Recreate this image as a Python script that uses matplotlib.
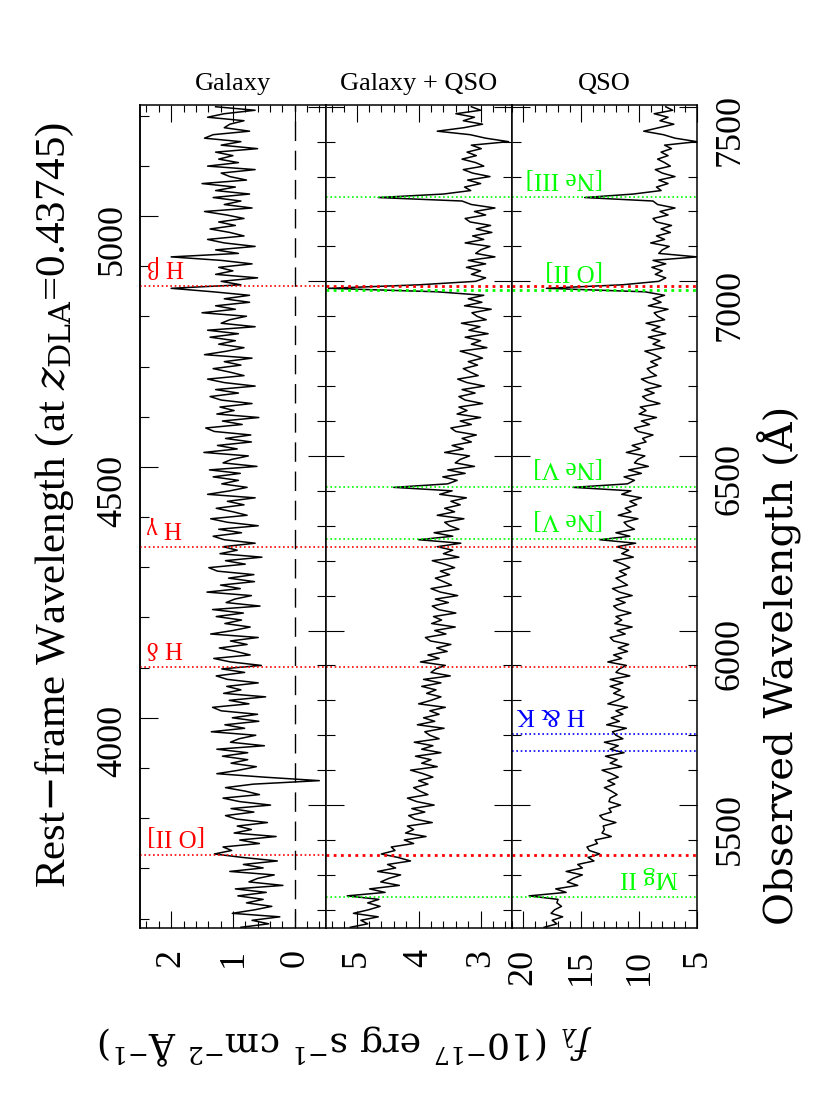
import numpy as np
import matplotlib
matplotlib.use("Agg")
import matplotlib.pyplot as plt
from matplotlib.ticker import MultipleLocator, FixedLocator

# ------------------ DATOS ------------------
Z_DLA = 0.43745
Z_QSO = 0.8716

# observed wavelength grid of the spectra (Angstrom)
wave = np.arange(5150, 7501, 10)

gal_flux = [
    0.87, 0.42, 0.69, 0.24, 1.01, 0.65, 0.37, 0.78, 0.51, 0.92,
    0.46, 0.96, 0.19, 0.74, 0.60, 0.33, 1.05, 0.51, 0.83, 0.28,
    0.84, 1.30, 1.02, 1.16, 0.57, 0.89, 0.30, 0.98, 0.70, 0.93,
    0.44, 0.94, 1.12, 0.66, 1.03, 0.39, 0.89, 1.16, 0.57, 0.80,
    1.12, 0.67, -0.40, 0.49, 1.26, 0.90, 0.62, 1.03, 0.76, 1.17,
    0.76, 1.26, 0.49, 1.04, 0.90, 0.63, 1.35, 0.81, 1.13, 0.58,
    1.01, 0.60, 1.19, 1.33, 0.74, 1.06, 0.47, 1.15, 0.87, 1.10,
    0.59, 1.09, 1.27, 0.81, 1.18, 0.54, 1.04, 1.31, 0.72, 0.95,
    1.22, 0.77, 1.04, 0.59, 1.36, 1.00, 0.72, 1.13, 0.86, 1.27,
    0.83, 1.33, 0.56, 1.11, 0.97, 0.70, 1.42, 0.88, 1.20, 0.65,
    1.07, 0.66, 1.25, 1.39, 0.80, 1.12, 0.53, 1.21, 0.93, 1.16,
    0.64, 1.14, 1.32, 0.86, 1.23, 0.59, 1.09, 1.36, 0.77, 1.00,
    1.27, 0.82, 1.09, 0.64, 1.41, 1.05, 0.77, 1.18, 0.91, 1.32,
    0.88, 1.38, 0.61, 1.16, 1.02, 0.75, 1.47, 0.93, 1.25, 0.70,
    1.12, 0.71, 1.30, 1.44, 0.85, 1.17, 0.58, 1.26, 0.98, 1.21,
    0.69, 1.19, 1.37, 0.91, 1.28, 0.64, 1.14, 1.41, 0.82, 1.05,
    1.32, 0.87, 1.14, 0.69, 1.46, 1.10, 0.82, 1.23, 0.96, 1.37,
    0.91, 1.41, 0.64, 1.19, 1.05, 0.78, 1.50, 0.96, 1.28, 0.73,
    1.14, 0.73, 1.32, 2.00, 0.87, 1.19, 0.60, 1.28, 1.00, 1.23,
    0.69, 1.19, 2.00, 0.91, 1.28, 0.64, 1.14, 1.41, 0.82, 1.05,
    1.37, 0.96, 1.23, 0.82, 1.10, 1.46, 0.69, 1.14, 0.87, 1.32,
    0.73, 1.28, 0.96, 1.50, 0.78, 1.05, 1.19, 0.64, 1.41, 0.91,
    1.23, 1.00, 1.28, 0.60, 1.19, 0.87, 1.46, 1.32, 0.73, 1.14,
    1.05, 0.82, 1.41, 1.14, 0.64, 1.28,
]

galqso_flux = [
    5.10, 4.82, 4.93, 4.65, 5.05, 4.81, 4.62, 4.82, 4.64, 5.15,
    4.54, 4.79, 4.31, 4.61, 4.48, 4.29, 4.66, 4.37, 4.50, 4.13,
    4.33, 4.60, 4.38, 4.44, 4.08, 4.23, 3.88, 4.21, 4.08, 4.18,
    3.78, 4.06, 4.16, 3.90, 4.11, 3.75, 4.03, 4.18, 3.85, 3.98,
    4.08, 3.85, 4.00, 3.77, 3.93, 4.13, 3.70, 3.95, 3.80, 4.05,
    3.64, 3.95, 3.77, 4.07, 3.67, 3.82, 3.90, 3.59, 4.02, 3.74,
    3.92, 3.67, 3.82, 3.57, 4.00, 3.80, 3.64, 3.87, 3.72, 3.95,
    3.64, 3.92, 3.49, 3.80, 3.72, 3.57, 3.97, 3.67, 3.85, 3.54,
    3.71, 3.48, 3.81, 3.89, 3.56, 3.74, 3.41, 3.79, 3.63, 3.76,
    3.40, 3.68, 3.78, 3.52, 3.73, 3.37, 3.65, 3.80, 3.47, 3.60,
    3.73, 3.50, 3.65, 3.42, 3.58, 3.78, 3.35, 3.60, 3.45, 3.70,
    3.32, 4.00, 3.45, 3.75, 3.35, 3.50, 3.58, 3.27, 3.70, 3.42,
    3.58, 3.33, 3.48, 3.23, 3.66, 3.46, 4.40, 3.53, 3.38, 3.61,
    3.25, 3.53, 3.10, 3.41, 3.33, 3.18, 3.58, 3.28, 3.46, 3.15,
    3.30, 3.07, 3.40, 3.48, 3.15, 3.33, 3.00, 3.38, 3.22, 3.35,
    2.97, 3.25, 3.35, 3.09, 3.30, 2.94, 3.22, 3.37, 3.04, 3.17,
    3.28, 3.05, 3.20, 2.97, 3.13, 3.33, 2.90, 3.15, 3.00, 3.25,
    2.88, 3.19, 3.01, 3.31, 2.91, 3.06, 3.14, 2.83, 3.26, 2.98,
    3.20, 2.95, 3.70, 5.45, 4.00, 3.08, 2.92, 3.15, 3.00, 3.23,
    2.92, 3.20, 2.77, 3.08, 3.00, 2.85, 3.25, 2.95, 3.13, 2.82,
    3.07, 2.84, 3.17, 3.25, 2.92, 3.10, 2.77, 3.15, 3.30, 4.65,
    3.60, 3.16, 3.26, 3.00, 3.21, 2.85, 3.13, 3.28, 2.95, 3.08,
    3.30, 3.07, 3.22, 2.99, 3.15, 2.55, 2.92, 3.17, 3.70, 3.27,
    2.97, 3.28, 3.10, 3.40, 3.00, 3.15,
]

qso_flux = [
    18.2, 17.1, 17.5, 16.6, 17.6, 17.3, 16.7, 17.1, 17.0, 19.5,
    16.3, 17.2, 15.3, 16.2, 15.7, 14.9, 16.3, 14.9, 15.3, 13.9,
    14.4, 13.4, 14.3, 14.5, 13.6, 13.8, 12.4, 13.2, 13.0, 13.1,
    12.0, 13.1, 13.4, 12.4, 12.6, 11.6, 12.6, 12.5, 11.9, 12.4,
    13.0, 12.1, 12.7, 11.8, 12.4, 13.2, 11.5, 12.5, 11.9, 12.9,
    11.3, 12.5, 11.8, 13.0, 11.4, 12.0, 12.3, 11.1, 12.8, 11.7,
    12.4, 11.4, 12.0, 11.0, 12.7, 11.9, 11.3, 12.2, 11.6, 12.5,
    11.4, 12.5, 10.8, 12.0, 11.7, 11.1, 12.7, 11.5, 12.2, 11.0,
    11.8, 10.9, 12.2, 12.5, 11.2, 11.9, 10.6, 12.1, 11.5, 12.0,
    10.7, 11.8, 12.2, 11.2, 12.0, 10.6, 11.7, 12.3, 11.0, 11.5,
    12.0, 11.1, 11.7, 10.8, 11.4, 12.2, 10.5, 11.5, 10.9, 11.9,
    10.3, 13.4, 10.8, 12.0, 10.4, 11.0, 11.3, 10.1, 11.8, 10.7,
    11.2, 10.2, 10.8, 9.8, 11.5, 10.7, 15.7, 11.0, 10.4, 11.3,
    9.8, 10.9, 9.2, 10.4, 10.1, 9.5, 11.1, 9.9, 10.6, 9.4,
    9.7, 8.8, 10.1, 10.4, 9.1, 9.8, 8.5, 10.0, 9.4, 9.9,
    8.2, 9.3, 9.7, 8.7, 9.5, 8.1, 9.2, 9.8, 8.5, 9.0,
    9.3, 8.4, 9.0, 8.1, 8.7, 9.5, 7.8, 8.8, 8.2, 9.2,
    7.7, 8.9, 8.2, 9.4, 7.8, 8.4, 8.7, 7.5, 9.2, 8.1,
    8.8, 7.8, 9.5, 18.0, 11.5, 8.3, 7.7, 8.6, 8.0, 8.9,
    7.7, 8.8, 5.0, 8.3, 8.0, 7.4, 9.0, 7.8, 8.5, 7.3,
    8.1, 7.2, 8.5, 8.8, 7.5, 8.2, 6.9, 8.4, 8.8, 14.7,
    10.5, 8.1, 8.5, 7.5, 8.3, 6.9, 8.0, 8.6, 7.3, 7.8,
    8.4, 7.5, 8.1, 7.2, 7.8, 5.0, 6.9, 7.9, 9.6, 8.3,
    7.0, 8.2, 7.5, 8.7, 7.1, 7.7,
]

# lineas de la galaxia (rojo), del QSO (verde) y H & K (azul)
red_names = ["[O II]", "H δ", "H γ", "H β"]
red_rest = [3727.4, 4101.7, 4340.5, 4861.3]
green_names = ["Mg II", "[Ne V]", "[Ne V]", "[O II]", "[Ne III]"]
green_rest = [2798.75, 3345.8, 3425.9, 3727.4, 3868.8]
blue_name = "H & K"
blue_rest = [3933.7, 3968.5]

panel_titles = ["Galaxy", "Galaxy + QSO", "QSO"]
panel_xlims = [(2.5, -0.5), (5.5, 2.5), (21, 5)]
panel_major = [1, 1, 5]
panel_minor = [0.2, 0.2, 1]

# ------------------ FIGURA ------------------
plt.rcParams["font.family"] = ["Liberation Serif", "DejaVu Serif"]
plt.rcParams["mathtext.fontset"] = "dejavuserif"

W, H = 830, 1111
fig = plt.figure(figsize=(W / 100, H / 100), dpi=100)

x_edges = [140.3, 325.5, 511.7, 697.0]
y_top, y_bot = 105, 928
axes = []
for i in range(3):
    ax = fig.add_axes([x_edges[i] / W, 1 - y_bot / H,
                       (x_edges[i + 1] - x_edges[i]) / W, (y_bot - y_top) / H])
    axes.append(ax)

fluxes = [gal_flux, galqso_flux, qso_flux]
dotted = (0, (1, 1.6))

for i, ax in enumerate(axes):
    ax.plot(fluxes[i], wave, color="black", lw=1.1)
    ax.set_xlim(*panel_xlims[i])
    ax.set_ylim(5148, 7505)
    for s in ax.spines.values():
        s.set_linewidth(1.1)
    ax.xaxis.set_major_locator(MultipleLocator(panel_major[i]))
    ax.xaxis.set_minor_locator(MultipleLocator(panel_minor[i]))
    ax.yaxis.set_major_locator(MultipleLocator(500))
    ax.yaxis.set_minor_locator(MultipleLocator(100))
    ax.tick_params(axis="both", which="both", direction="in", width=0.8,
                   top=True, bottom=True, left=True, right=True,
                   labelleft=False, labelright=False)
    ax.tick_params(axis="x", which="major", length=12.5, labelsize=26,
                   labelrotation=90, pad=15)
    ax.tick_params(axis="x", which="minor", length=5)
    ax.tick_params(axis="y", which="major", length=13)
    ax.tick_params(axis="y", which="minor", length=6.5)
    ax.set_title(panel_titles[i], fontsize=19, pad=11)

    # lineas rojas en los tres paneles
    for name, rest in zip(red_names, red_rest):
        lw = 2.0 if (name in ("[O II]", "H β") and i > 0) else 1.2
        ax.axhline(rest * (1 + Z_DLA), color="red", ls=dotted, lw=lw)
    if i > 0:
        for name, rest in zip(green_names, green_rest):
            lw = 2.0 if name == "[O II]" else 1.2
            ax.axhline(rest * (1 + Z_QSO), color="#00ff00", ls=dotted, lw=lw)

# panel galaxia
gal = axes[0]
gal.axvline(0, color="black", lw=1.0, ls=(0, (14, 7)))
gal.tick_params(axis="y", which="both", left=False)
rest_ax = gal.secondary_yaxis("left", functions=(lambda w: w / (1 + Z_DLA),
                                                  lambda r: r * (1 + Z_DLA)))
rest_ax.yaxis.set_major_locator(FixedLocator([4000, 4500, 5000]))
rest_ax.yaxis.set_minor_locator(MultipleLocator(100))
rest_ax.tick_params(axis="y", which="both", direction="in", width=0.8)
rest_ax.tick_params(axis="y", which="major", length=13, labelsize=26,
                    labelrotation=90, pad=8)
rest_ax.tick_params(axis="y", which="minor", length=6.5)
rest_ax.spines["left"].set_linewidth(1.1)

for name, rest in zip(red_names, red_rest):
    gal.text(0.036, rest * (1 + Z_DLA) + 56, name, color="red", fontsize=18,
             rotation=180, ha="left", va="center",
             transform=gal.get_yaxis_transform())

# panel QSO
qso = axes[2]
qso.tick_params(axis="y", which="major", labelright=True, labelsize=26,
                labelrotation=90, pad=12)
for bw in blue_rest:
    qso.axhline(bw * (1 + Z_DLA), color="blue", ls=dotted, lw=1.2)
qso.text(0.396, blue_rest[1] * (1 + Z_DLA) + 56, blue_name, color="blue",
         fontsize=18, rotation=180, ha="right", va="center",
         transform=qso.get_yaxis_transform())

green_x = [0.898, 0.493, 0.493, 0.493, 0.493]
for name, rest, gx in zip(green_names, green_rest, green_x):
    qso.text(gx, rest * (1 + Z_QSO) + 56, name, color="#00ff00", fontsize=18,
             rotation=180, ha="right", va="center",
             transform=qso.get_yaxis_transform())

# etiquetas de ejes
fig.text(55 / W, 1 - 505 / H, r"Rest$-$frame Wavelength (at $z_{\rm DLA}$=0.43745)",
         rotation=90, fontsize=31, ha="center", va="center")
fig.text(780 / W, 1 - 665 / H, "Observed Wavelength (Å)", family="DejaVu Serif",
         rotation=90, fontsize=29, ha="center", va="center")
fig.text(345 / W, 1 - 1045 / H,
         r"$f_\lambda$ (10$^{-17}$ erg s$^{-1}$ cm$^{-2}$ Å$^{-1}$)",
         family="DejaVu Serif", rotation=180, fontsize=26, ha="center", va="center")

fig.savefig("out.png", dpi=100)
